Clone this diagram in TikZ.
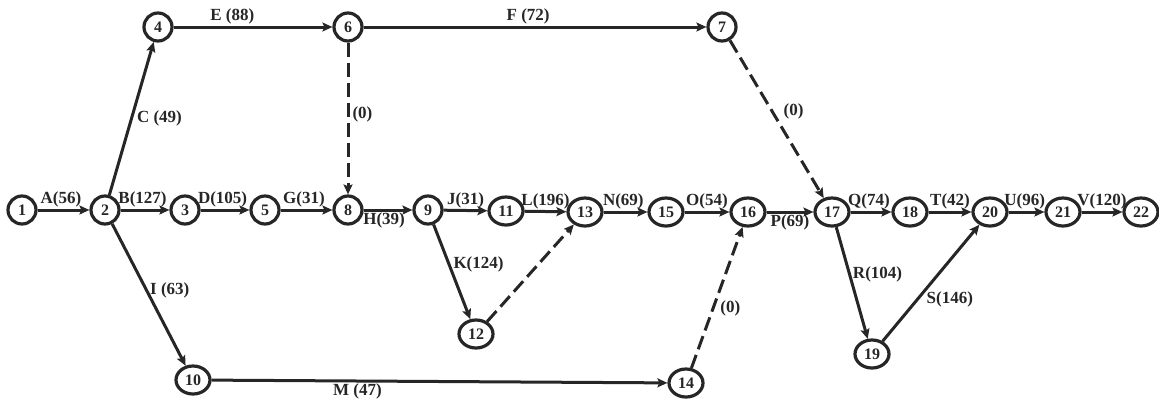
\documentclass[tikz,border=0pt]{standalone}
\usepackage{fontspec}
\setmainfont{Liberation Serif}
\usetikzlibrary{arrows.meta,shapes.geometric}
\definecolor{ink}{HTML}{262626}
\begin{document}
\begin{tikzpicture}[x=1pt,y=-1pt,
  ev/.style={draw=ink, line width=3.2pt, circle, minimum size=28pt, inner sep=0pt,
    font=\bfseries\fontsize{16}{16}\selectfont, text=ink},
  evw/.style={ev, ellipse, minimum width=34pt, minimum height=28pt},
  act/.style={draw=ink, line width=3pt, -{Stealth[length=10pt,width=9pt,inset=2pt]}},
  dum/.style={act, dash pattern=on 14pt off 6pt},
  lab/.style={font=\bfseries\fontsize{17}{17}\selectfont, text=ink, inner sep=1pt}]
\useasboundingbox (0,0) rectangle (1159,402);
% events
\node[ev]  (n1)  at (22,210)  {1};
\node[ev]  (n2)  at (105,210) {2};
\node[ev]  (n3)  at (185,210) {3};
\node[ev]  (n4)  at (158,27)  {4};
\node[ev]  (n5)  at (265,210) {5};
\node[ev]  (n6)  at (348,27)  {6};
\node[ev]  (n7)  at (722,27)  {7};
\node[ev]  (n8)  at (348,210) {8};
\node[ev]  (n9)  at (428,210) {9};
\node[evw] (n10) at (193,380) {10};
\node[evw] (n11) at (506,211) {11};
\node[evw] (n12) at (476,334) {12};
\node[evw] (n13) at (585,212) {13};
\node[evw] (n14) at (686,383) {14};
\node[evw] (n15) at (666,212) {15};
\node[evw] (n16) at (748,212) {16};
\node[evw] (n17) at (832,212) {17};
\node[evw] (n18) at (910,212) {18};
\node[evw] (n19) at (872,354) {19};
\node[evw] (n20) at (990,212) {20};
\node[evw] (n21) at (1063,212) {21};
\node[evw] (n22) at (1141,212) {22};
% activities
\draw[act] (n1) -- node[lab, above, pos=0.45] {A(56)} (n2);
\draw[act] (n2) -- node[lab, above, pos=0.45] {B(127)} (n3);
\draw[act] (n3) -- node[lab, above, pos=0.45] {D(105)} (n5);
\draw[act] (n5) -- node[lab, above, pos=0.45] {G(31)} (n8);
\draw[act] (n8) -- node[lab, below, pos=0.42] {H(39)} (n9);
\draw[act] (n9) -- node[lab, above, pos=0.5] {J(31)} (n11);
\draw[act] (n11) -- node[lab, above, pos=0.5] {L(196)} (n13);
\draw[act] (n13) -- node[lab, above, pos=0.45] {N(69)} (n15);
\draw[act] (n15) -- node[lab, above, pos=0.5] {O(54)} (n16);
\draw[act] (n16) -- node[lab, below, pos=0.5] {P(69)} (n17);
\draw[act] (n17) -- node[lab, above, pos=0.45] {Q(74)} (n18);
\draw[act] (n18) -- node[lab, above, pos=0.5] {T(42)} (n20);
\draw[act] (n20) -- node[lab, above, pos=0.45] {U(96)} (n21);
\draw[act] (n21) -- node[lab, above, pos=0.5] {V(120)} (n22);
\draw[act] (n4) -- node[lab, above, pos=0.37] {E (88)} (n6);
\draw[act] (n6) -- node[lab, above, pos=0.48] {F (72)} (n7);
\draw[act] (n2) -- node[lab, right, pos=0.5, xshift=3pt] {C (49)} (n4);
\draw[act] (n2) -- node[lab, right, pos=0.47, xshift=1pt] {I (63)} (n10);
\draw[act] (n9) -- node[lab, right, pos=0.42, xshift=2pt] {K(124)} (n12);
\draw[act] (n10) -- node[lab, below, pos=0.32] {M (47)} (n14);
\draw[act] (n17) -- node[lab, right, pos=0.42, xshift=1pt] {R(104)} (n19);
\draw[act] (n19) -- node[lab, below right, pos=0.45, xshift=-2pt] {S(146)} (n20);
\draw[dum] (n6) -- node[lab, right, pos=0.47, xshift=2pt] {(0)} (n8);
\draw[dum] (n7) -- node[lab, right, pos=0.45, xshift=9pt] {(0)} (n17);
\draw[dum] (n12) -- (n13);
\draw[dum] (n14) -- node[lab, right, pos=0.42, xshift=5pt] {(0)} (n16);
\end{tikzpicture}
\end{document}
